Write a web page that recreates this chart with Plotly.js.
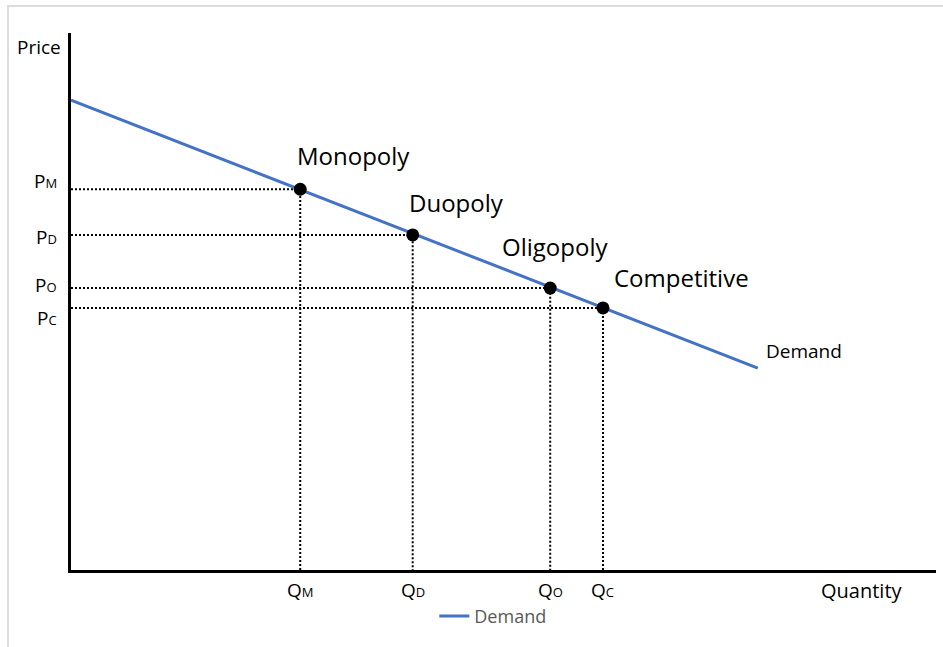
<!DOCTYPE html>
<html>
<head>
<meta charset="utf-8">
<script src="https://cdn.plot.ly/plotly-3.0.1.min.js"></script>
<style>
  html, body { margin: 0; padding: 0; background: #fff; }
  #wrap { position: relative; width: 943px; height: 647px; }
  #chart { position: absolute; left: 0; top: 0; width: 943px; height: 647px; }
  #frame { position: absolute; left: 7px; top: 5px; right: 0; bottom: 0;
           border-top: 2px solid #dcdcdc; border-left: 2px solid #dcdcdc; pointer-events: none; }
</style>
</head>
<body>
<div id="wrap"><div id="chart"></div><div id="frame"></div></div>
<script>
// Demand curve endpoints (quantity, price)
const demandQ = [0, 7.94];
const demandP = [8.75, 3.76];

// Market structures
const structures = ["Monopoly", "Duopoly", "Oligopoly", "Competitive"];
const quantities = [2.65, 3.95, 5.54, 6.15];
const prices = [7.09, 6.24, 5.25, 4.88];

// Tick labels (letter + small-caps subscript)
const priceTickMain = ["P", "P", "P", "P"];
const quantityTickMain = ["Q", "Q", "Q", "Q"];
const tickSub = ["M", "D", "O", "C"];

// Axis titles and curve label
const xTitle = "Quantity";
const yTitle = "Price";
const curveLabel = "Demand";

// Styling offsets (pixels) for labels
const labelDX = [53, 44, 5, 79];
const labelDY = [34, 32, 42, 30];
const priceLabelDY = [8, -2, 3, -10];

const FONT = "'Open Sans', Lato, sans-serif";
const traces = [];

// Dotted guide lines
for (let i = 0; i < structures.length; i++) {
  traces.push({
    x: [0, quantities[i], quantities[i]],
    y: [prices[i], prices[i], 0],
    mode: "lines",
    line: { color: "#000", width: 2, dash: "2px,2px" },
    showlegend: false,
    hoverinfo: "skip"
  });
}

// Demand line
traces.push({
  x: demandQ,
  y: demandP,
  mode: "lines",
  name: curveLabel,
  line: { color: "#4472C4", width: 3 },
  showlegend: true
});

// Points
traces.push({
  x: quantities,
  y: prices,
  mode: "markers",
  marker: { color: "#000", size: 13 },
  showlegend: false,
  text: structures,
  hoverinfo: "text"
});

const annotations = [];
for (let i = 0; i < structures.length; i++) {
  annotations.push({
    x: quantities[i], y: prices[i], xref: "x", yref: "y",
    text: structures[i], showarrow: false,
    xshift: labelDX[i], yshift: labelDY[i],
    font: { family: FONT, size: 24, color: "#000" }
  });
  annotations.push({
    x: 0, y: prices[i], xref: "x", yref: "y",
    text: priceTickMain[i] + "<span style='font-size:13px'>" + tickSub[i] + "</span>",
    showarrow: false, xanchor: "right", xshift: -12, yshift: priceLabelDY[i],
    font: { family: FONT, size: 19, color: "#000" }
  });
  annotations.push({
    x: quantities[i], y: 0, xref: "x", yref: "y",
    text: quantityTickMain[i] + "<span style='font-size:13px'>" + tickSub[i] + "</span>",
    showarrow: false, yanchor: "top", yshift: -5,
    font: { family: FONT, size: 19, color: "#000" }
  });
}
annotations.push({
  x: demandQ[1], y: demandP[1], xref: "x", yref: "y",
  text: curveLabel, showarrow: false, xanchor: "left",
  xshift: 6, yshift: 17,
  font: { family: FONT, size: 19, color: "#000" }
});
annotations.push({
  x: 1, y: 0, xref: "paper", yref: "paper",
  text: xTitle, showarrow: false, xanchor: "right", yanchor: "top",
  xshift: -31, yshift: -5,
  font: { family: FONT, size: 20, color: "#000" }
});
annotations.push({
  x: 0, y: 1, xref: "paper", yref: "paper",
  text: yTitle, showarrow: false, xanchor: "right", yanchor: "middle",
  xshift: -8, yshift: -14,
  font: { family: FONT, size: 19, color: "#000" }
});

const layout = {
  width: 943, height: 647,
  margin: { l: 71, r: 7, t: 33, b: 77, pad: 0 },
  paper_bgcolor: "#fff", plot_bgcolor: "#fff",
  xaxis: { range: [0, 10], showgrid: false, zeroline: false, showticklabels: false,
           ticks: "", showline: true, linecolor: "#000", linewidth: 3, fixedrange: true },
  yaxis: { range: [0, 10], showgrid: false, zeroline: false, showticklabels: false,
           ticks: "", showline: true, linecolor: "#000", linewidth: 3, fixedrange: true },
  showlegend: true,
  legend: { orientation: "h", x: 0.42, xanchor: "left", y: -0.052, yanchor: "top",
            font: { family: FONT, size: 18, color: "#595959" }, bgcolor: "rgba(0,0,0,0)" },
  annotations: annotations
};

Plotly.newPlot("chart", traces, layout, { displayModeBar: false, staticPlot: true });
</script>
</body>
</html>
